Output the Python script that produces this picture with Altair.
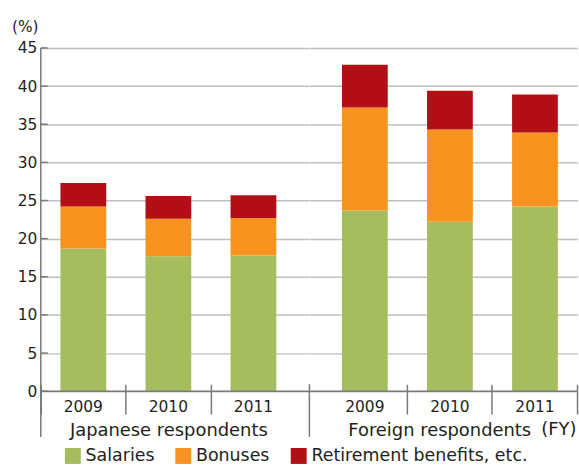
import altair as alt
import pandas as pd

# ---------------- data ----------------
years = ["2009", "2010", "2011"]
groups = ["Japanese respondents", "Foreign respondents"]
series = ["Salaries", "Bonuses", "Retirement benefits, etc."]
colors = ["#a5bd5e", "#f7931e", "#b20f17"]

jp_salaries = [18.7, 17.7, 17.8]
jp_bonuses = [5.5, 4.9, 4.9]
jp_retirement = [3.1, 3.0, 3.0]

fr_salaries = [23.7, 22.2, 24.2]
fr_bonuses = [13.5, 12.1, 9.7]
fr_retirement = [5.6, 5.1, 5.0]

y_ticks = [0, 5, 10, 15, 20, 25, 30, 35, 40, 45]
unit_label = "(%)"
fy_label = "(FY)"

# ---------------- style ----------------
FONT = "DejaVu Sans"
TEXT = "#231f20"
GRID = "#bfbfbf"
AXIS = "#7a7a7a"
H = 345
W = 269.5

yscale = alt.Scale(domain=[0, 45], nice=False, zero=True)
one = pd.DataFrame({"a": [0]})


def panel(gi, vals, align, tick_pos, left, title_x):
    rows = []
    for si, (s, v) in enumerate(zip(series, vals)):
        for yr, val in zip(years, v):
            rows.append({"year": yr, "series": s, "sidx": si, "value": val})
    df = pd.DataFrame(rows)

    xscale = alt.Scale(domain=years, paddingInner=0, paddingOuter=0.076,
                       align=align, round=False)
    xaxis = alt.Axis(labels=False, ticks=True, tickSize=30, tickWidth=1.5,
                     tickColor=AXIS, domain=False, offset=-7,
                     bandPosition=tick_pos, grid=False,
                     title=groups[gi], titleFont=FONT, titleFontSize=18,
                     titleFontWeight="normal", titleColor=TEXT,
                     titleX=title_x, titleY=51.3, titleAlign="center",
                     titleBaseline="alphabetic")
    X = alt.X("year:N", scale=xscale, axis=xaxis)

    if left:
        yaxis = alt.Axis(values=y_ticks, grid=True, gridColor=GRID, gridWidth=1.5,
                         domain=False, ticks=False, labelFont=FONT,
                         labelFontSize=15.5, labelColor=TEXT, labelPadding=4,
                         labelOverlap=False,
                         title=unit_label, titleAngle=0, titleAlign="left",
                         titleBaseline="alphabetic", titleX=-29.5, titleY=-16.5,
                         titleFont=FONT, titleFontSize=15.5,
                         titleFontWeight="normal", titleColor=TEXT)
    else:
        yaxis = alt.Axis(values=y_ticks, grid=True, gridColor=GRID, gridWidth=1.5,
                         domain=False, ticks=False, labels=False, title=None)

    legend = alt.Legend(orient="none", legendX=23.5, legendY=401,
                        direction="horizontal", title=None, symbolType="square",
                        symbolSize=256, symbolStrokeWidth=0, labelFont=FONT,
                        labelFontSize=17.5, labelColor=TEXT, labelLimit=400,
                        columnPadding=20, labelOffset=4, padding=0)

    bars = alt.Chart(df).mark_bar(width=46).encode(
        x=X,
        y=alt.Y("value:Q", stack="zero", scale=yscale, axis=yaxis),
        color=alt.Color("series:N", scale=alt.Scale(domain=series, range=colors),
                        legend=legend),
        order=alt.Order("sidx:Q", sort="ascending"),
    )

    year_text = alt.Chart(pd.DataFrame({"year": years})).mark_text(
        font=FONT, fontSize=15.5, color=TEXT, baseline="alphabetic"
    ).encode(x=X, y=alt.value(H + 21), text="year:N")

    base_line = alt.Chart(one).mark_rule(color=AXIS, strokeWidth=1.5).encode(
        x=alt.value(0), x2=alt.value(W), y=alt.value(H)
    )

    layers = [bars, year_text, base_line]

    if left:
        vline = alt.Chart(one).mark_rule(color=AXIS, strokeWidth=1.5).encode(
            x=alt.value(0), y=alt.value(0), y2=alt.value(H + 46)
        )
        yt = alt.Chart(pd.DataFrame({"value": y_ticks})).mark_rule(
            color=AXIS, strokeWidth=1.5
        ).encode(y=alt.Y("value:Q", scale=yscale, axis=yaxis),
                 x=alt.value(0), x2=alt.value(7))
        layers += [yt, vline]
    else:
        vline = alt.Chart(one).mark_rule(color=AXIS, strokeWidth=1.5).encode(
            x=alt.value(0), y=alt.value(H - 7), y2=alt.value(H + 46)
        )
        fy = alt.Chart(pd.DataFrame({"t": [fy_label]})).mark_text(
            font=FONT, fontSize=18, color=TEXT, align="right",
            baseline="alphabetic"
        ).encode(x=alt.value(268.5), y=alt.value(H + 44.3), text="t:N")
        layers += [vline, fy]

    return alt.layer(*layers).properties(width=W, height=H)


left_panel = panel(0, [jp_salaries, jp_bonuses, jp_retirement], 0, 0, True, 128.2)
right_panel = panel(1, [fr_salaries, fr_bonuses, fr_retirement], 1, 1, False, 130.5)

chart = alt.hconcat(left_panel, right_panel, spacing=0, bounds="flush").properties(
    padding={"left": 11, "top": 18, "right": 0, "bottom": 0},
    background="white",
).configure_view(stroke="transparent")

chart.save("out.html", embed_options={"renderer": "svg", "actions": False})
